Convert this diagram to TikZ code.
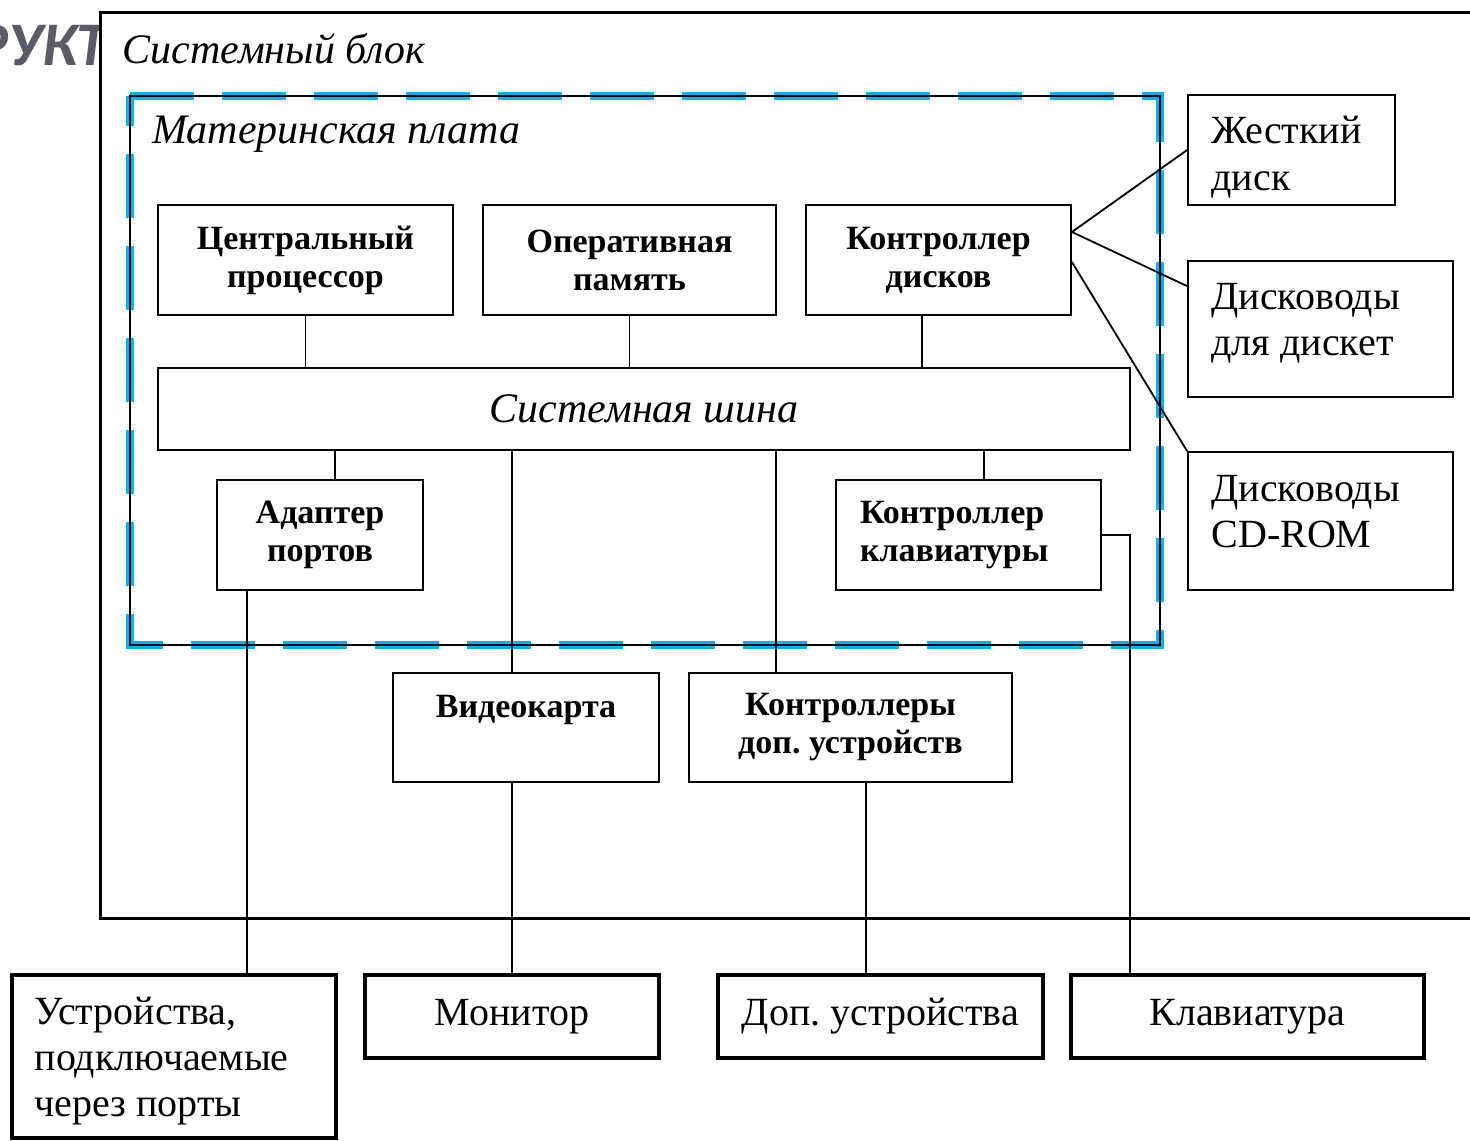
\documentclass[tikz,border=0pt]{standalone}
\usepackage{fontspec}
\setmainfont{Liberation Serif}
\newfontfamily\slidefont{Carlito}
\frenchspacing

\definecolor{boardcyan}{RGB}{0,176,240}
\definecolor{slidegray}{RGB}{88,92,104}

\tikzset{
  unit/.style={draw, line width=0.9pt, font=\fontsize{17}{19}\selectfont\bfseries, align=center, inner sep=0pt},
  drive/.style={draw, line width=0.9pt},
  device/.style={draw, line width=1.75pt, font=\fontsize{20}{23}\selectfont, align=center, inner sep=0pt},
  plaintext/.style={anchor=north west, align=left, inner sep=0pt, font=\fontsize{20}{23}\selectfont},
  wire/.style={line width=0.9pt},
  caption/.style={font=\fontsize{21}{24}\selectfont\itshape, anchor=base west, inner sep=0pt},
}

\begin{document}
\begin{tikzpicture}[x=0.5pt,y=-0.5pt]
    \useasboundingbox (0,0) rectangle (1470,1140);
    \clip (0,0) rectangle (1470,1140);

    % cut-off slide title behind the frame
    \node[anchor=base east, inner sep=0pt, text=slidegray, font=\slidefont\fontsize{31}{31}\selectfont\bfseries\itshape] (slide) at (108,65) {РУКТ};

    % system block frame
    \draw[line width=1.5pt, fill=white] (100,12) rectangle (1500,918);
    \node[caption] (sysname) at (122,63) {Системный блок};

    % motherboard frame
    \draw[boardcyan, line width=4pt, dash pattern=on 32pt off 14pt] (130,96) -- (1160,96) -- (1160,645) -- (130,645) -- cycle;
    \draw[line width=0.7pt] (130,96) rectangle (1160,645);
    \node[caption] (mbname) at (152,143) {Материнская плата};

    % tap positions
    \coordinate (xdc) at (922,0);
    \coordinate (xadp) at (335,0);
    \coordinate (xvid) at (512,0);
    \coordinate (xctl) at (776,0);
    \coordinate (xkbc) at (984,0);
    \coordinate (xprt) at (247,0);
    \coordinate (xdev) at (866,0);
    \coordinate (xkbd) at (1130,0);

    % units on the board
    \node[unit, minimum width=147.5pt, minimum height=55pt] (cpu) at (305.5,260) {Центральный\\процессор};
    \node[unit, minimum width=146.5pt, minimum height=55pt] (ram) at (629.5,260) {Оперативная\\память};
    \node[unit, minimum width=132.5pt, minimum height=55pt] (dc) at (938.5,260) {Контроллер\\дисков};
    \node[unit, minimum width=486pt, minimum height=41pt, font=\fontsize{21}{24}\selectfont\itshape] (bus) at (644,409) {Системная шина};
    \node[unit, minimum width=103pt, minimum height=55pt] (adp) at (320,535) {Адаптер\\портов};
    \node[unit, text width=108.5pt, align=left, inner xsep=12pt, minimum height=55pt] (kbc) at (968.5,535) {Контроллер\\клавиатуры};
    \node[unit, minimum width=133pt, minimum height=54.5pt] (video) at (526,727.5) {Видеокарта\\[2pt]~};
    \node[unit, minimum width=161.5pt, minimum height=54.5pt] (ctl) at (850.5,727.5) {Контроллеры\\доп. устройств};

    % drives
    \node[drive, minimum width=103.5pt, minimum height=55pt] (hdd) at (1291.5,150) {};
    \node[drive, minimum width=132.5pt, minimum height=68pt] (fdd) at (1320.5,329) {};
    \node[drive, minimum width=132.5pt, minimum height=69pt] (cd) at (1320.5,521) {};
    \node[plaintext] (hddtext) at ([xshift=12pt,yshift=-11pt]hdd.north west) {Жесткий\\[0.5pt]диск};
    \node[plaintext] (fddtext) at ([xshift=12pt,yshift=-11.5pt]fdd.north west) {Дисководы\\для дискет};
    \node[plaintext] (cdtext) at ([xshift=12pt,yshift=-12pt]cd.north west) {Дисководы\\CD-ROM};

    % outer devices
    \node[device, minimum width=162pt, minimum height=81.5pt] (ports) at (174,1056.5) {};
    \node[plaintext] (portstext) at ([xshift=12pt,yshift=-11.5pt]ports.north west) {Устройства,\\подключаемые\\через порты};
    \node[device, minimum width=147pt, minimum height=41.5pt] (monitor) at (512,1016.5) {Монитор};
    \node[device, minimum width=162.5pt, minimum height=41.5pt] (extra) at (880.5,1016.5) {Доп. устройства};
    \node[device, minimum width=176.5pt, minimum height=41.5pt] (keyboard) at (1247.5,1016.5) {Клавиатура};

    % bus connections
    \draw[wire] (cpu.south) -- (cpu.south |- bus.north);
    \draw[wire] (ram.south) -- (ram.south |- bus.north);
    \draw[wire] (xdc |- dc.south) -- (xdc |- bus.north);
    \draw[wire] (xadp |- bus.south) -- (xadp |- adp.north);
    \draw[wire] (xvid |- bus.south) -- (xvid |- video.north);
    \draw[wire] (xctl |- bus.south) -- (xctl |- ctl.north);
    \draw[wire] (xkbc |- bus.south) -- (xkbc |- kbc.north);

    % cables
    \draw[wire] (xprt |- adp.south) -- (xprt |- ports.north);
    \draw[wire] (xvid |- video.south) -- (xvid |- monitor.north);
    \draw[wire] (xdev |- ctl.south) -- (xdev |- extra.north);
    \draw[wire] (kbc.east) -- (kbc.east -| xkbd) -- (xkbd |- keyboard.north);
    \draw[wire] ([yshift=14pt]dc.east) -- (hdd.west);
    \draw[wire] ([yshift=14pt]dc.east) -- ([yshift=-13pt]fdd.north west);
    \draw[wire] ([yshift=-1pt]dc.east) -- (cd.north west);
\end{tikzpicture}
\end{document}
